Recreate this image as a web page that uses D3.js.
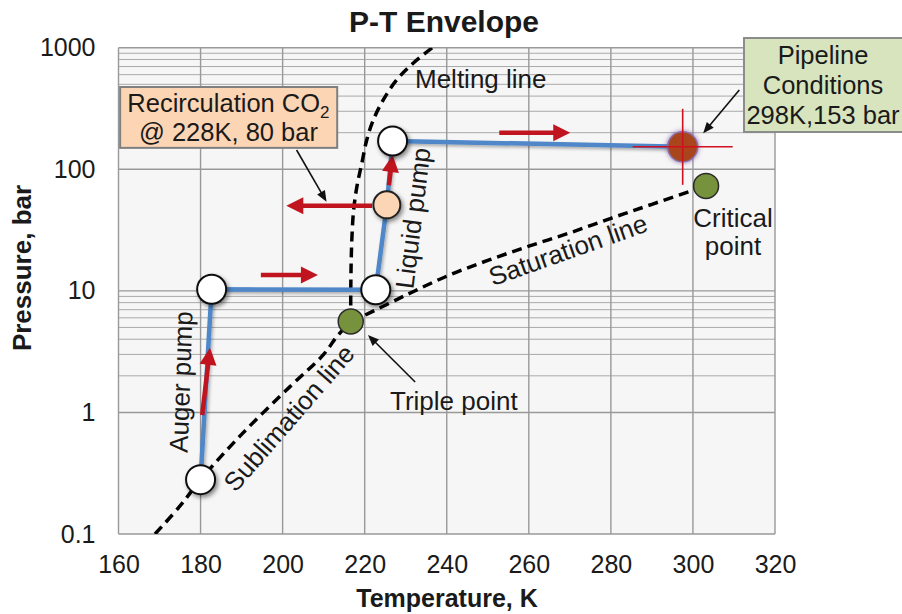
<!DOCTYPE html>
<html>
<head>
<meta charset="utf-8">
<script src="https://cdn.jsdelivr.net/npm/d3@7"></script>
<style>
  body { margin: 0; background: #fff; }
  svg { display: block; font-family: "Liberation Sans", Arial, sans-serif; }
</style>
</head>
<body>
<svg id="chart"></svg>
<script>
/* ---- data (T in K, P in bar) ---- */
var tempTicks = [160, 180, 200, 220, 240, 260, 280, 300, 320];
var presTicks = [0.1, 1, 10, 100, 1000];
var presMinor = [2, 3, 4, 5, 6, 7, 8, 9, 200, 300, 400, 500, 600, 700, 800, 900];

var sublimation = [[168.9, 0.1], [175, 0.17], [180, 0.28], [190, 0.66], [201.8, 1.63],
                   [210, 3.0], [213.2, 4.2], [216.6, 5.6]];
var saturation  = [[216.6, 5.6], [220, 6.3], [230, 9.2], [240, 13.2], [250, 17.8],
                   [260, 23.3], [270, 30], [280, 39.5], [290, 51.5], [303.2, 73]];
var melting     = [[216.6, 5.6], [216.6, 9], [216.7, 17], [216.9, 28], [217.3, 46],
                   [218.1, 72], [219.3, 112], [220.5, 174], [222.1, 254], [224.5, 371],
                   [227.8, 543], [231.8, 745], [236.5, 1000]];

// process path: auger pump -> heat -> liquid pump -> pipeline
var processT = [180.0, 182.7, 222.7, 225.4, 226.8, 297.5];
var processP = [0.28, 10.3, 10.2, 51, 171, 153];
var processKind = ['open', 'open', 'open', 'recirc', 'open', 'pipeline'];

var triplePoint = [216.6, 5.6];
var criticalPoint = [303.2, 73];

// red flow arrows [fromT, fromP, toT, toP]
var flowArrows = [[180.4, 0.95, 182.3, 3.4],
                  [194.7, 13.5, 208.6, 13.5],
                  [221.8, 50, 200.9, 50],
                  [225.9, 74, 226.8, 131],
                  [252.8, 200, 270.1, 200]];

// black pointer arrows [fromT, fromP, toT, toP]
var pointerArrows = [[203.4, 144, 210.7, 54],
                     [311.3, 449, 302.5, 198],
                     [232.3, 1.78, 220.8, 4.34]];

/* ---- svg ---- */
var W = 902, H = 614;
var svg = d3.select('#chart').attr('width', W).attr('height', H);

var x = d3.scaleLinear().domain([160, 320]).range([118.5, 775]);
var y = d3.scaleLog().domain([0.1, 1000]).range([534, 47.7]);

var defs = svg.append('defs');
var sh = defs.append('filter').attr('id', 'shadow')
    .attr('x', '-50%').attr('y', '-50%').attr('width', '200%').attr('height', '200%');
sh.append('feDropShadow').attr('dx', 2).attr('dy', 2.5).attr('stdDeviation', 2)
    .attr('flood-color', '#000').attr('flood-opacity', 0.45);
var sh2 = defs.append('filter').attr('id', 'lineShadow')
    .attr('x', '-10%').attr('y', '-10%').attr('width', '120%').attr('height', '120%');
sh2.append('feDropShadow').attr('dx', 1.5).attr('dy', 2).attr('stdDeviation', 1.5)
    .attr('flood-color', '#000').attr('flood-opacity', 0.3);
var glow = defs.append('filter').attr('id', 'glow')
    .attr('x', '-60%').attr('y', '-60%').attr('width', '220%').attr('height', '220%');
glow.append('feDropShadow').attr('dx', 0).attr('dy', 0).attr('stdDeviation', 2.5)
    .attr('flood-color', '#7a4fa0').attr('flood-opacity', 0.8);
defs.append('clipPath').attr('id', 'plotClip').append('rect')
    .attr('x', x(160)).attr('y', y(1000))
    .attr('width', x(320) - x(160)).attr('height', y(0.1) - y(1000));

/* plot area + grid */
svg.append('rect')
    .attr('x', x(160)).attr('y', y(1000))
    .attr('width', x(320) - x(160)).attr('height', y(0.1) - y(1000))
    .attr('fill', '#f6f6f6');

var grid = svg.append('g');
grid.selectAll('line.minor').data(presMinor).enter().append('line')
    .attr('class', 'minor')
    .attr('x1', x(160)).attr('x2', x(320))
    .attr('y1', d => y(d)).attr('y2', d => y(d))
    .attr('stroke', '#aaaaaa').attr('stroke-width', 1);
grid.selectAll('line.hmajor').data(presTicks).enter().append('line')
    .attr('class', 'hmajor')
    .attr('x1', x(160)).attr('x2', x(320))
    .attr('y1', d => y(d)).attr('y2', d => y(d))
    .attr('stroke', '#999').attr('stroke-width', 1.4);
grid.selectAll('line.vmajor').data(tempTicks).enter().append('line')
    .attr('class', 'vmajor')
    .attr('x1', d => x(d)).attr('x2', d => x(d))
    .attr('y1', y(1000)).attr('y2', y(0.1))
    .attr('stroke', '#999').attr('stroke-width', 1.4);

/* axes */
var yAxis = svg.append('g').attr('transform', `translate(${x(160)},0)`)
    .call(d3.axisLeft(y).tickValues(presTicks).tickFormat(d => String(d)).tickSize(0).tickPadding(23));
var xAxis = svg.append('g').attr('transform', `translate(0,${y(0.1)})`)
    .call(d3.axisBottom(x).tickValues(tempTicks).tickFormat(d => String(d)).tickSize(0).tickPadding(21));
[yAxis, xAxis].forEach(function(a){
    a.select('.domain').remove();
    a.selectAll('text').attr('font-size', 25).attr('fill', '#1a1a1a')
        .attr('font-family', '"Liberation Sans", Arial, sans-serif');
});

svg.append('text').text('P-T Envelope')
    .attr('x', 444).attr('y', 32).attr('text-anchor', 'middle')
    .attr('font-size', 30).attr('font-weight', 'bold').attr('fill', '#1a1a1a');
svg.append('text').text('Temperature, K')
    .attr('x', 447).attr('y', 607).attr('text-anchor', 'middle')
    .attr('font-size', 25).attr('font-weight', 'bold').attr('fill', '#1a1a1a');
svg.append('text').text('Pressure, bar')
    .attr('transform', 'translate(31,268) rotate(-90)').attr('text-anchor', 'middle')
    .attr('font-size', 26).attr('font-weight', 'bold').attr('fill', '#1a1a1a');

/* phase lines (dashed) */
var phase = d3.line().x(d => x(d[0])).y(d => y(d[1])).curve(d3.curveCatmullRom);
var plot = svg.append('g').attr('clip-path', 'url(#plotClip)');
plot.selectAll('path.phase').data([sublimation, saturation, melting]).enter().append('path')
    .attr('class', 'phase')
    .attr('d', phase)
    .attr('fill', 'none').attr('stroke', '#000').attr('stroke-width', 3.5)
    .attr('stroke-dasharray', '10,6');

/* process line */
var procPts = processT.map((t, i) => [t, processP[i]]);
svg.append('path')
    .attr('d', d3.line().x(d => x(d[0])).y(d => y(d[1]))(procPts))
    .attr('fill', 'none').attr('stroke', '#4f87c9').attr('stroke-width', 4.5)
    .attr('stroke-linejoin', 'round').attr('filter', 'url(#lineShadow)');

/* arrows */
function drawArrow(g, a, color, width, headLen, headW){
    var x1 = x(a[0]), y1 = y(a[1]), x2 = x(a[2]), y2 = y(a[3]);
    var dx = x2 - x1, dy = y2 - y1, len = Math.sqrt(dx*dx + dy*dy);
    var ux = dx/len, uy = dy/len;
    var bx = x2 - ux*headLen, by = y2 - uy*headLen;
    g.append('line').attr('x1', x1).attr('y1', y1).attr('x2', bx + ux).attr('y2', by + uy)
        .attr('stroke', color).attr('stroke-width', width);
    g.append('path')
        .attr('d', `M${x2},${y2}L${bx - uy*headW/2},${by + ux*headW/2}L${bx + uy*headW/2},${by - ux*headW/2}Z`)
        .attr('fill', color);
}
var redG = svg.append('g');
flowArrows.forEach(a => drawArrow(redG, a, '#c0141e', 4.5, 17, 17));

/* state points */
var nodeStyle = {
    open:     {fill: '#ffffff', stroke: '#111', r: 14.5},
    recirc:   {fill: '#fcd5b4', stroke: '#222', r: 13.5},
    pipeline: {fill: '#a9441d', stroke: '#8c6fa8', r: 15}
};

var pipeIdx = processKind.indexOf('pipeline');
var pcx = x(processT[pipeIdx]), pcy = y(processP[pipeIdx]);

svg.append('g').selectAll('circle').data(procPts).enter().append('circle')
    .attr('cx', d => x(d[0])).attr('cy', d => y(d[1]))
    .attr('r', (d, i) => nodeStyle[processKind[i]].r)
    .attr('fill', (d, i) => nodeStyle[processKind[i]].fill)
    .attr('stroke', (d, i) => nodeStyle[processKind[i]].stroke)
    .attr('stroke-width', (d, i) => processKind[i] === 'pipeline' ? 1.5 : 2)
    .attr('filter', (d, i) => processKind[i] === 'pipeline' ? 'url(#glow)' : 'url(#shadow)');

// crosshair on pipeline point
svg.append('line').attr('x1', pcx - 50).attr('x2', pcx + 50).attr('y1', pcy).attr('y2', pcy)
    .attr('stroke', '#d0101e').attr('stroke-width', 1.6);
svg.append('line').attr('x1', pcx).attr('x2', pcx).attr('y1', pcy - 38).attr('y2', pcy + 38)
    .attr('stroke', '#d0101e').attr('stroke-width', 1.6);

svg.append('g').selectAll('circle').data([triplePoint, criticalPoint]).enter().append('circle')
    .attr('cx', d => x(d[0])).attr('cy', d => y(d[1]))
    .attr('r', 12.5)
    .attr('fill', '#76923c').attr('stroke', '#2b2b2b').attr('stroke-width', 1.5);

/* annotation boxes */
var recirc = svg.append('g');
recirc.append('rect').attr('x', x(160.4)).attr('y', y(475))
    .attr('width', x(213.3) - x(160.4)).attr('height', y(150) - y(475))
    .attr('fill', '#fcd5b4').attr('stroke', '#7f7f7f').attr('stroke-width', 2);
var rt = recirc.append('text').attr('text-anchor', 'middle').attr('font-size', 25.5).attr('fill', '#1a1a1a');
rt.append('tspan').attr('x', x(186.8)).attr('y', 112).text('Recirculation CO');
rt.append('tspan').attr('font-size', 17).attr('dy', 6).text('2');
recirc.append('text').attr('text-anchor', 'middle').attr('font-size', 25.5).attr('fill', '#1a1a1a')
    .attr('x', x(186.8)).attr('y', 141).text('@ 228K, 80 bar');

var pipe = svg.append('g');
pipe.append('rect').attr('x', 744).attr('y', 38).attr('width', 170).attr('height', 94)
    .attr('fill', '#d7e4bd').attr('stroke', '#8c8c8c').attr('stroke-width', 2);
var pipeLines = ['Pipeline', 'Conditions', '298K,153 bar'];
pipe.selectAll('text').data(pipeLines).enter().append('text')
    .attr('x', 823).attr('y', (d, i) => 64 + i*30)
    .attr('text-anchor', 'middle').attr('font-size', 25.5).attr('fill', '#1a1a1a')
    .text(d => d);

var blackG = svg.append('g');
pointerArrows.forEach(a => drawArrow(blackG, a, '#111', 1.6, 11, 9));

/* curve and point labels */
var lab = svg.append('g').attr('font-size', 26).attr('fill', '#1a1a1a');
lab.append('text').attr('x', 415).attr('y', 88).text('Melting line');
lab.append('text').attr('x', 390).attr('y', 410).text('Triple point');
lab.append('text').attr('x', 733).attr('y', 227).attr('text-anchor', 'middle').text('Critical');
lab.append('text').attr('x', 733).attr('y', 255).attr('text-anchor', 'middle').text('point');
lab.append('text').attr('transform', 'translate(568,250) rotate(-19.5)')
    .attr('text-anchor', 'middle').attr('dominant-baseline', 'central').text('Saturation line');
lab.append('text').attr('transform', 'translate(289,418) rotate(-49)')
    .attr('text-anchor', 'middle').attr('dominant-baseline', 'central').text('Sublimation line');
lab.append('text').attr('transform', 'translate(181,382) rotate(-88)')
    .attr('text-anchor', 'middle').attr('dominant-baseline', 'central').text('Auger pump');
lab.append('text').attr('transform', 'translate(413,218) rotate(-83)')
    .attr('text-anchor', 'middle').attr('dominant-baseline', 'central').text('Liquid pump');
</script>
</body>
</html>
